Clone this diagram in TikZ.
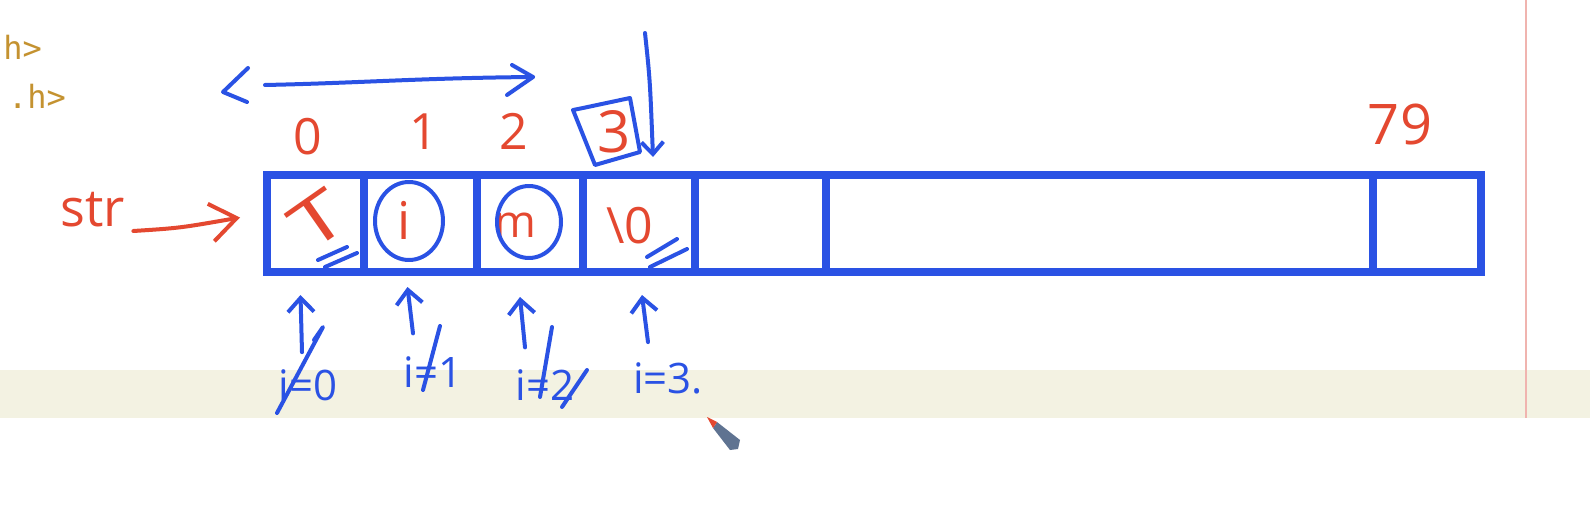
\documentclass[tikz,border=0pt]{standalone}
\usepackage{fontspec}
\setmainfont{Open Sans}
\newfontfamily\codefont{DejaVu Sans Mono}
\usetikzlibrary{arrows.meta}
\definecolor{penblue}{RGB}{42,82,228}
\definecolor{penred}{RGB}{228,72,48}
\definecolor{codeorange}{RGB}{196,146,48}
\definecolor{band}{RGB}{243,242,226}
\definecolor{marginline}{RGB}{240,180,175}
\definecolor{cursorgray}{RGB}{95,115,145}
\begin{document}
\begin{tikzpicture}[x=1pt,y=-1pt,
  cellbox/.style={draw=penblue,line width=8pt,minimum height=97pt,inner sep=0pt,outer sep=0pt,anchor=north west},
  redtxt/.style={text=penred,inner sep=0pt,font=\fontsize{50}{50}\selectfont},
  bluetxt/.style={text=penblue,inner sep=0pt,font=\fontsize{42}{42}\selectfont},
  codetxt/.style={text=codeorange,inner sep=0pt,anchor=east,font=\codefont\fontsize{32}{32}\selectfont},
  bluepen/.style={draw=penblue,line width=4pt,line cap=round,line join=round},
  redpen/.style={draw=penred,line width=4pt,line cap=round,line join=round},
  uparrow/.style={bluepen,-{Straight Barb[length=14pt,width=26pt,line width=4pt]}},
  downarrow/.style={bluepen,-{Straight Barb[length=12pt,width=22pt,line width=4pt]}},
  redarrow/.style={redpen,-{Straight Barb[length=26pt,width=38pt,line width=4pt]}},
]
% background
\fill[white] (0,0) rectangle (1590,508);
\useasboundingbox (0,0) rectangle (1590,508);
\fill[band] (0,370) rectangle (1590,418);
\draw[marginline,line width=1.2pt] (1526,0) -- (1526,418);

% code text fragments
\node[codetxt] (inca) at (42,47) {h>};
\node[codetxt] (incb) at (66,96) {.h>};

% array cells
\node[cellbox,minimum width=97pt]  (cell0) at (267,175) {};
\node[cellbox,minimum width=113pt] (cell1) at (364,175) {};
\node[cellbox,minimum width=106pt] (cell2) at (477,175) {};
\node[cellbox,minimum width=112pt] (cell3) at (583,175) {};
\node[cellbox,minimum width=131pt] (cell4) at (695,175) {};
\node[cellbox,minimum width=547pt] (cell5) at (826,175) {};
\node[cellbox,minimum width=108pt] (cell6) at (1373,175) {};

% index labels
\node[redtxt] (n0) at (308,137) {0};
\node[redtxt] (n1) at (424,132) {1};
\node[redtxt] (n2) at (514,131) {2};
\node[redtxt,font=\fontsize{58}{58}\selectfont] (n3) at (614,132) {3};
\node[redtxt,font=\fontsize{56}{56}\selectfont] (n79) at (1400,124) {79};
\draw[bluepen] (573,110) -- (583,108) -- (630,98) -- (640,152) -- (595,165) -- cycle;

% top range arrow
\draw[bluepen] (248,68) -- (223,92) -- (247,102);
\draw[bluepen] (265,85) .. controls (360,83) and (420,78) .. (533,77);
\draw[bluepen] (512,65) -- (533,77) -- (507,95);

% vertical arrow to index 3
\coordinate (vtop) at (645,33);
\draw[downarrow] (vtop) .. controls (650,80) .. ([shift={(14,-18)}]cell3.north);

% str pointer
\node[redtxt,font=\fontsize{52}{52}\selectfont] (str) at (93,210) {str};
\draw[redarrow] ([shift={(8,21)}]str.east) .. controls (180,228) .. ([shift={(-27,-6)}]cell0.west);

% cell contents
\node[redtxt,font=\fontsize{66}{66}\selectfont,rotate=35] (cT) at (318,220) {\scalebox{1.4}[1]{T}};
\node[redtxt,font=\fontsize{52}{52}\selectfont] (ci) at (404,220) {i};
\draw[bluepen] (409,221) ellipse (34 and 39);
\node[redtxt,font=\fontsize{45}{45}\selectfont] (cm) at (515,225) {m};
\draw[bluepen] (529,222) ellipse (32 and 36);
\node[redtxt] (cnull) at (630,226) {\textbackslash0};

% double strokes
\draw[bluepen] (318,260) -- (347,247);
\draw[bluepen] (325,267) -- (357,253);
\draw[bluepen] (647,257) -- (677,239);
\draw[bluepen] (650,267) -- (687,249);

% loop counter labels
\node[bluetxt] (i0) at (308,385) {i=0};
\node[bluetxt] (i1) at (433,372) {i=1};
\node[bluetxt] (i2) at (545,385) {i=2};
\node[bluetxt] (i3) at (668,378) {i=3.};

\draw[uparrow] ([shift={(-6,-17)}]i0.north) -- ([shift={(-15,23)}]cell0.south);
\draw[uparrow] ([shift={(-20,-23)}]i1.north) -- ([shift={(-13,15)}]cell1.south);
\draw[uparrow] ([shift={(-20,-22)}]i2.north) -- ([shift={(-10,25)}]cell2.south);
\draw[uparrow] ([shift={(-20,-20)}]i3.north) -- ([shift={(3,23)}]cell3.south);

% strike-throughs
\draw[bluepen] (277,413) -- (323,327) -- (314,340);
\draw[bluepen] (440,326) -- (423,390);
\draw[bluepen] (552,327) -- (540,397);
\draw[bluepen] (587,370) -- (562,407);

% pen cursor
\fill[cursorgray] (717,422) -- (740,440) -- (738,449) -- (730,450) -- (713,428) -- cycle;
\fill[penred] (707,417) -- (717,422) -- (713,428) -- cycle;
\end{tikzpicture}
\end{document}
